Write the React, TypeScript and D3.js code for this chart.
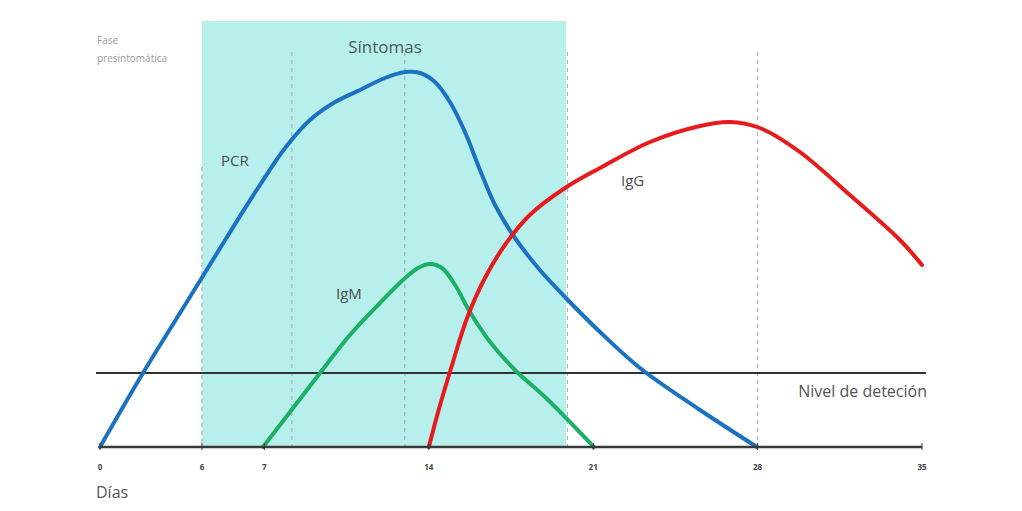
import React from "react";
import * as d3 from "d3";

const pcrDays = [0, 1.83, 3.83, 5.54, 6.81, 7.88, 8.94, 10.01, 11.07, 12.13, 12.99, 13.63, 14.26, 14.9, 15.54, 16.18, 16.82, 17.67, 18.73, 19.84, 21.29, 22.99, 25.55, 27.97];
const pcrValues = [0, 18.5, 37.5, 53.75, 65.5, 74.75, 81.75, 86.25, 89.25, 92.25, 93.75, 93.5, 91.25, 86.25, 78.75, 69.25, 60.5, 52.25, 44.25, 37.25, 28.75, 19.75, 9.25, 0];

const igmDays = [6.94, 8.09, 9.37, 10.64, 11.92, 12.9, 13.54, 14.05, 14.56, 15.12, 15.75, 16.61, 17.67, 18.95, 21.03];
const igmValues = [0, 8.75, 18.5, 28, 36, 41.75, 44.75, 45.75, 44.75, 40.5, 33.75, 26.25, 19.25, 12.5, 0];

const iggDays = [14.0, 14.48, 14.99, 15.63, 16.39, 17.24, 18.3, 19.8, 21.29, 23.42, 25.55, 26.82, 28.1, 29.8, 31.93, 34.06, 35];
const iggValues = [0, 10.5, 20.5, 32.25, 42.25, 50.5, 58, 64.75, 69.75, 76.25, 80.25, 81.25, 79.75, 73.75, 63, 51.75, 45.5];

const tickDays = [0, 4.34, 7, 14, 21, 28, 35];
const tickLabels = ["0", "6", "7", "14", "21", "28", "35"];

const guideDays = [4.34, 8.17, 12.98, 19.9, 28];
const guideTops = [70, 98.75, 98.75, 98.75, 98.75];

const symptomStart = 4.34;
const symptomEnd = 19.84;
const detectionLevel = 18.5;

const series = [
  { name: "PCR", days: pcrDays, values: pcrValues, color: "#1b72c0" },
  { name: "IgM", days: igmDays, values: igmValues, color: "#1cb066" },
  { name: "IgG", days: iggDays, values: iggValues, color: "#e61c1c" },
];

export default function App() {
  const W = 1022;
  const H = 511;
  const x = d3.scaleLinear().domain([0, 35]).range([100, 922]);
  const y = d3.scaleLinear().domain([0, 100]).range([447, 47]);
  const font = "'Open Sans', 'Liberation Sans', sans-serif";

  const line = (days: number[], vals: number[]) =>
    d3
      .line<number>()
      .x((_, i) => x(days[i]))
      .y((v) => y(v))
      .curve(d3.curveCatmullRom.alpha(0.5))(vals) || "";

  return (
    <svg
      width={W}
      height={H}
      style={{ position: "absolute", left: 0, top: 0, background: "#fff" }}
    >
      <rect
        x={x(symptomStart)}
        y={21}
        width={x(symptomEnd) - x(symptomStart)}
        height={y(0) - 21}
        fill="#b6efec"
      />
      {guideDays.map((d, i) => (
        <line
          key={i}
          x1={x(d)}
          x2={x(d)}
          y1={y(guideTops[i])}
          y2={y(0)}
          stroke="#a9a9a9"
          strokeWidth={1}
          strokeDasharray="4,4"
        />
      ))}
      <text x={385} y={53} textAnchor="middle" fontFamily={font} fontSize={17} fill="#4d5a5a">
        Síntomas
      </text>
      <text x={97} y={44} fontFamily={font} fontSize={10} fill="#9a9a9a">
        Fase
      </text>
      <text x={97} y={62} fontFamily={font} fontSize={10} fill="#9a9a9a">
        presintomática
      </text>

      <line x1={96} x2={926} y1={y(detectionLevel)} y2={y(detectionLevel)} stroke="#2f3535" strokeWidth={2} />
      <text x={927} y={397} textAnchor="end" fontFamily={font} fontSize={16} fill="#555">
        Nivel de deteción
      </text>

      {series.map((s) => (
        <path
          key={s.name}
          d={line(s.days, s.values)}
          fill="none"
          stroke={s.color}
          strokeWidth={4}
          strokeLinecap="round"
          strokeLinejoin="round"
        />
      ))}

      <line x1={x(0)} x2={x(35)} y1={y(0)} y2={y(0)} stroke="#3a3a3a" strokeWidth={2.5} />
      {tickDays.map((d, i) => (
        <g key={i}>
          <line x1={x(d)} x2={x(d)} y1={y(0) - 4} y2={y(0) + 3} stroke="#3a3a3a" strokeWidth={1} />
          <text
            x={x(d)}
            y={470}
            textAnchor="middle"
            fontFamily={font}
            fontSize={8}
            fontWeight="bold"
            fill="#444"
          >
            {tickLabels[i]}
          </text>
        </g>
      ))}
      <text x={96} y={498} fontFamily={font} fontSize={16} fill="#555">
        Días
      </text>

      <text x={221} y={166} fontFamily={font} fontSize={15} fill="#4a4f4f">
        PCR
      </text>
      <text x={336} y={299} fontFamily={font} fontSize={15} fill="#4a4f4f">
        IgM
      </text>
      <text x={621} y={186} fontFamily={font} fontSize={15} fill="#4a4f4f">
        IgG
      </text>
    </svg>
  );
}
